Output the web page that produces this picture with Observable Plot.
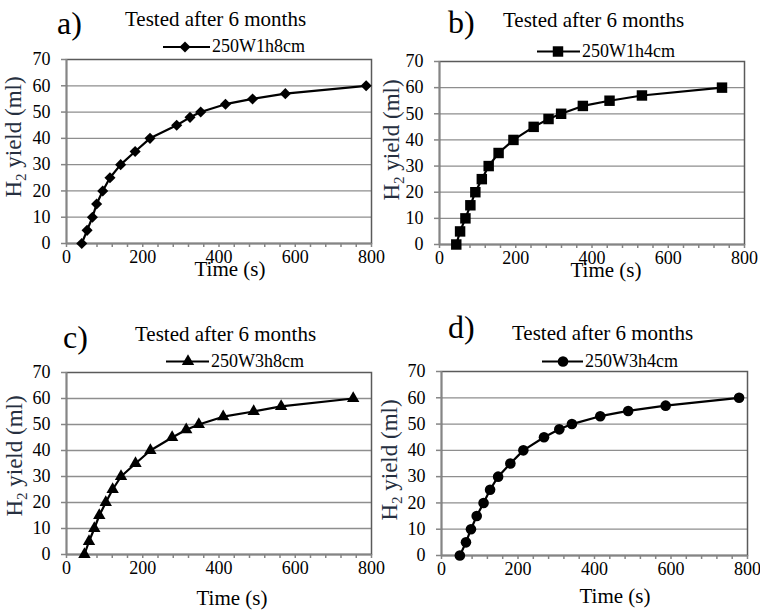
<!DOCTYPE html>
<html>
<head>
<meta charset="utf-8">
<script src="https://cdn.jsdelivr.net/npm/d3@7"></script>
<script src="https://cdn.jsdelivr.net/npm/@observablehq/plot@0.6"></script>
<style>
  body { margin: 0; background: #fff; font-family: 'Liberation Serif', 'Times New Roman', serif; }
  #wrap { position: relative; width: 760px; height: 611px; background: #fff; overflow: hidden; }
  #wrap svg, #wrap svg text { font-family: 'Liberation Serif', 'Times New Roman', serif !important; }
  .panel { position: absolute; }
  #overlay { position: absolute; left: 0; top: 0; pointer-events: none; }
</style>
</head>
<body>
<div id="wrap"></div>
<script>
// ---- data ----
const yieldA = [0, 5, 10, 15, 20, 25, 30, 35, 40, 45, 48, 50, 53, 55, 57, 60];
const timeA  = [40, 54, 68, 79, 95, 114, 142, 180, 219, 289, 324, 352, 417, 488, 574, 786];
const yieldB = [0, 5, 10, 15, 20, 25, 30, 35, 40, 45, 48, 50, 53, 55, 57, 60];
const timeB  = [44, 54, 68, 81, 94, 111, 129, 155, 194, 247, 286, 319, 376, 446, 531, 741];
const yieldC = [0, 5, 10, 15, 20, 25, 30, 35, 40, 45, 48, 50, 53, 55, 57, 60];
const timeC  = [47, 59, 73, 86, 103, 121, 143, 181, 220, 277, 314, 347, 411, 491, 563, 752];
const yieldD = [0, 5, 10, 15, 20, 25, 30, 35, 40, 45, 48, 50, 53, 55, 57, 60];
const timeD  = [48, 64, 77, 92, 110, 127, 148, 180, 214, 268, 308, 341, 415, 488, 586, 778];
const seriesNames = ["250W1h8cm", "250W1h4cm", "250W3h8cm", "250W3h4cm"];
const panelLetters = ["a)", "b)", "c)", "d)"];
const panelTitle = "Tested after 6 months";
const xLabel = "Time (s)";
const xMajorTicks = [0, 200, 400, 600, 800];
const xMinorTicks = [0, 40, 80, 120, 160, 200, 240, 280, 320, 360, 400, 440, 480, 520, 560, 600, 640, 680, 720, 760, 800];
const yTicks = [0, 10, 20, 30, 40, 50, 60, 70];

// ---- layout / style config ----
const panels = [
  {t: timeA, v: yieldA, sym: "diamond2", r: 5.0, left: 0,   top: 0,   h: 305, ml: 66, mr: 9,  mt: 59, mb: 62,
   letter: [57, 34], title: [125, 26], leg: [163, 210, 185, 47, 212, 52], ytitle: [21, 137], xtitle: [230, 276]},
  {t: timeB, v: yieldB, sym: "square",   r: 5.9, left: 380, top: 0,   h: 305, ml: 59, mr: 16, mt: 61, mb: 61,
   letter: [68, 33], title: [123, 27], leg: [157, 200, 178, 51.5, 202, 57], ytitle: [19, 140], xtitle: [226, 277]},
  {t: timeC, v: yieldC, sym: "triangle", r: 4.6, left: 0,   top: 305, h: 306, ml: 66, mr: 9,  mt: 67, mb: 57,
   letter: [63, 43], title: [135, 36], leg: [166, 209, 188, 56.5, 211, 62], ytitle: [22, 151], xtitle: [232, 300]},
  {t: timeD, v: yieldD, sym: "circle",   r: 5.3, left: 380, top: 305, h: 306, ml: 61, mr: 13, mt: 66, mb: 56,
   letter: [68, 33], title: [132, 35], leg: [162, 203, 183, 56.5, 205, 62], ytitle: [17, 155], xtitle: [235, 298]}
];

const wrap = document.getElementById("wrap");
const FONT = "'Liberation Serif', 'Times New Roman', serif";

panels.forEach((p, i) => {
  const data = p.t.map((t, k) => ({time: t, value: p.v[k]}));
  const chart = Plot.plot({
    width: 380,
    height: p.h,
    marginLeft: p.ml, marginRight: p.mr, marginTop: p.mt, marginBottom: p.mb,
    style: {fontFamily: FONT, fontSize: "18px", color: "#000", background: "transparent", overflow: "visible"},
    x: {domain: [0, 800]},
    y: {domain: [0, 70]},
    marks: [
      Plot.ruleY(yTicks.filter(d => d > 0 && d < 70), {stroke: "#8e8e8e", strokeWidth: 1.3}),
      Plot.frame({stroke: "#5a5a5a", strokeWidth: 1.5}),
      Plot.ruleX([0], {stroke: "#858585", strokeWidth: 1.8}),
      Plot.ruleY([0], {stroke: "#858585", strokeWidth: 1.8}),
      Plot.axisY({ticks: yTicks, tickSize: 5, tickPadding: 11, label: null, stroke: "#858585", strokeWidth: 1.5}),
      Plot.axisX({ticks: xMinorTicks, tickSize: 4, tickFormat: () => "", label: null, stroke: "#858585", strokeWidth: 1.5}),
      Plot.axisX({ticks: xMajorTicks, tickSize: 0, tickPadding: 7, label: null}),
      Plot.line(data, {x: "time", y: "value", stroke: "#000", strokeWidth: 2.2}),
      Plot.dot(data, {x: "time", y: "value", symbol: () => p.sym, r: p.r, fill: "#000", stroke: "none"})
    ]
  });
  chart.classList.add("panel");
  chart.style.left = p.left + "px";
  chart.style.top = p.top + "px";
  chart.style.position = "absolute";
  wrap.appendChild(chart);
});

// ---- overlay for panel letters, titles, legends, axis titles ----
const ov = d3.select("#wrap").append("svg").attr("id", "overlay")
  .attr("width", 760).attr("height", 611)
  .attr("font-family", FONT);

panels.forEach((p, i) => {
  const g = ov.append("g").attr("transform", `translate(${p.left},${p.top})`);
  g.append("text").attr("x", p.letter[0]).attr("y", p.letter[1])
    .attr("font-size", 32).attr("fill", "#000").text(panelLetters[i]);
  g.append("text").attr("x", p.title[0]).attr("y", p.title[1])
    .attr("font-size", 21).attr("fill", "#000").text(panelTitle);
  const [x1, x2, mx, ly, tx, ty] = p.leg;
  g.append("line").attr("x1", x1).attr("x2", x2).attr("y1", ly).attr("y2", ly)
    .attr("stroke", "#000").attr("stroke-width", 2.2);
  const symMap = {diamond2: d3.symbolDiamond2, square: d3.symbolSquare, triangle: d3.symbolTriangle, circle: d3.symbolCircle};
  g.append("path").attr("transform", `translate(${mx},${ly})`)
    .attr("d", d3.symbol(symMap[p.sym], Math.PI * p.r * p.r)()).attr("fill", "#000");
  g.append("text").attr("x", tx).attr("y", ty).attr("font-size", 18).attr("fill", "#000").text(seriesNames[i]);
  // y title
  const yt = g.append("text").attr("transform", `translate(${p.ytitle[0]},${p.ytitle[1]}) rotate(-90)`)
    .attr("text-anchor", "middle").attr("font-size", 23).attr("fill", "#262f40");
  yt.append("tspan").text("H");
  yt.append("tspan").attr("dy", 5).attr("font-size", 15).text("2");
  yt.append("tspan").attr("dy", -5).text(" yield (ml)");
  // x title
  g.append("text").attr("x", p.xtitle[0]).attr("y", p.xtitle[1]).attr("text-anchor", "middle")
    .attr("font-size", 21).attr("fill", "#000").text(xLabel);
});
</script>
</body>
</html>
